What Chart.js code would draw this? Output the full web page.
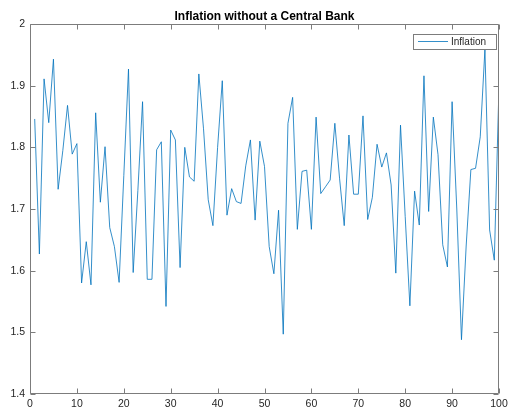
<!DOCTYPE html>
<html>
<head>
<meta charset="utf-8">
<script src="https://cdn.jsdelivr.net/npm/chart.js@4"></script>
<style>
html, body { margin: 0; padding: 0; background: #fff; }
#wrap { width: 508px; height: 411px; }
</style>
</head>
<body>
<div id="wrap"><canvas id="chart" width="508" height="411"></canvas></div>
<script>
const chartTitle = 'Inflation without a Central Bank';
const seriesName = 'Inflation';

// periods 1..100
const periods = [
    1, 2, 3, 4, 5, 6, 7, 8, 9, 10,
    11, 12, 13, 14, 15, 16, 17, 18, 19, 20,
    21, 22, 23, 24, 25, 26, 27, 28, 29, 30,
    31, 32, 33, 34, 35, 36, 37, 38, 39, 40,
    41, 42, 43, 44, 45, 46, 47, 48, 49, 50,
    51, 52, 53, 54, 55, 56, 57, 58, 59, 60,
    61, 62, 63, 64, 65, 66, 67, 68, 69, 70,
    71, 72, 73, 74, 75, 76, 77, 78, 79, 80,
    81, 82, 83, 84, 85, 86, 87, 88, 89, 90,
    91, 92, 93, 94, 95, 96, 97, 98, 99, 100
];

const inflation = [
    1.846, 1.627, 1.911, 1.840, 1.943, 1.732, 1.795, 1.868, 1.789, 1.806,
    1.580, 1.647, 1.577, 1.856, 1.711, 1.801, 1.670, 1.639, 1.581, 1.754,
    1.927, 1.597, 1.730, 1.874, 1.586, 1.586, 1.796, 1.809, 1.542, 1.828,
    1.812, 1.605, 1.800, 1.752, 1.745, 1.919, 1.830, 1.715, 1.673, 1.800,
    1.908, 1.690, 1.733, 1.712, 1.709, 1.770, 1.812, 1.682, 1.810, 1.769,
    1.639, 1.595, 1.698, 1.497, 1.839, 1.881, 1.667, 1.761, 1.763, 1.667,
    1.849, 1.725, 1.736, 1.747, 1.839, 1.750, 1.673, 1.820, 1.724, 1.724,
    1.851, 1.683, 1.719, 1.805, 1.768, 1.791, 1.739, 1.596, 1.836, 1.688,
    1.543, 1.729, 1.674, 1.916, 1.696, 1.849, 1.788, 1.642, 1.606, 1.874,
    1.700, 1.488, 1.640, 1.764, 1.766, 1.817, 1.959, 1.666, 1.617, 1.900
];

const xTicks = [0, 10, 20, 30, 40, 50, 60, 70, 80, 90, 100];
const yTicks = [1.4, 1.5, 1.6, 1.7, 1.8, 1.9, 2];

const lineColor = '#0072BD';
const axisColor = '#7c7c7c';
const textColor = '#262626';
const fontFamily = 'Helvetica, Arial, "Liberation Sans", sans-serif';

// boite, graduations internes, titre et legende facon MATLAB
const matlabFrame = {
    id: 'matlabFrame',
    afterDraw(chart) {
        const { ctx, chartArea: a, scales } = chart;
        const L = Math.round(a.left) + 0.5;
        const R = Math.round(a.right) - 0.5;
        const T = Math.round(a.top) + 0.5;
        const B = Math.round(a.bottom) - 0.5;
        const tl = 5;

        ctx.save();
        ctx.strokeStyle = axisColor;
        ctx.lineWidth = 1;
        ctx.beginPath();
        ctx.rect(L, T, R - L, B - T);

        xTicks.forEach(v => {
            const px = Math.round(scales.x.getPixelForValue(v)) + 0.5;
            ctx.moveTo(px, B); ctx.lineTo(px, B - tl);
            ctx.moveTo(px, T); ctx.lineTo(px, T + tl);
        });
        yTicks.forEach(v => {
            const py = Math.round(scales.y.getPixelForValue(v)) + 0.5;
            ctx.moveTo(L, py); ctx.lineTo(L + tl, py);
            ctx.moveTo(R, py); ctx.lineTo(R - tl, py);
        });
        ctx.stroke();

        // titre
        ctx.fillStyle = '#000';
        ctx.font = 'bold 12px ' + fontFamily;
        ctx.textAlign = 'center';
        ctx.textBaseline = 'alphabetic';
        ctx.fillText(chartTitle, (a.left + a.right) / 2, 19.5);

        // legende
        const bx = 413.5, by = 34.5, bw = 83, bh = 15;
        ctx.fillStyle = '#fff';
        ctx.fillRect(bx, by, bw, bh);
        ctx.strokeStyle = axisColor;
        ctx.strokeRect(bx, by, bw, bh);
        ctx.strokeStyle = lineColor;
        ctx.lineWidth = 0.8;
        ctx.beginPath();
        ctx.moveTo(418, 41.5);
        ctx.lineTo(448, 41.5);
        ctx.stroke();
        ctx.fillStyle = textColor;
        ctx.font = '10px ' + fontFamily;
        ctx.textAlign = 'left';
        ctx.textBaseline = 'middle';
        ctx.fillText(chart.data.datasets[0].label, 451, 42);
        ctx.restore();
    }
};

const points = periods.map((p, i) => ({ x: p, y: inflation[i] }));

const chart = new Chart(document.getElementById('chart').getContext('2d'), {
    type: 'line',
    data: {
        datasets: [{
            label: seriesName,
            data: points,
            borderColor: lineColor,
            borderWidth: 0.8,
            pointRadius: 0,
            tension: 0,
            fill: false
        }]
    },
    options: {
        responsive: false,
        animation: false,
        devicePixelRatio: 1,
        layout: { padding: { top: 24, right: 9, left: 0, bottom: 0 } },
        plugins: {
            legend: { display: false },
            title: { display: false },
            tooltip: { enabled: false }
        },
        scales: {
            x: {
                type: 'linear',
                min: 0,
                max: 100,
                afterBuildTicks: s => { s.ticks = xTicks.map(v => ({ value: v })); },
                afterFit: s => { s.height = 17; s.paddingLeft = 0; s.paddingRight = 0; },
                grid: { display: false, drawTicks: false },
                border: { display: false },
                ticks: {
                    color: textColor,
                    font: { family: fontFamily, size: 10.5 },
                    padding: 4,
                    maxRotation: 0,
                    callback: v => String(v)
                }
            },
            y: {
                min: 1.4,
                max: 2,
                afterBuildTicks: s => { s.ticks = yTicks.map(v => ({ value: v })); },
                afterFit: s => { s.width = 30; s.paddingTop = 0; s.paddingBottom = 0; },
                grid: { display: false, drawTicks: false },
                border: { display: false },
                ticks: {
                    color: textColor,
                    font: { family: fontFamily, size: 10.5 },
                    padding: 5,
                    callback: v => String(Math.round(v * 10) / 10)
                }
            }
        }
    },
    plugins: [matlabFrame]
});
</script>
</body>
</html>
